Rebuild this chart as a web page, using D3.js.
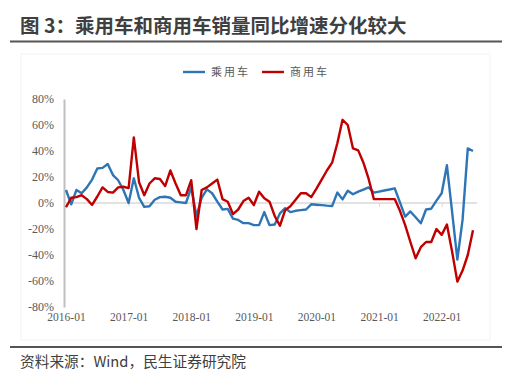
<!DOCTYPE html>
<html><head><meta charset="utf-8">
<script src="https://cdn.jsdelivr.net/npm/d3@7"></script>
<style>
html,body{margin:0;padding:0;background:#fff;}
svg{display:block;}
</style></head>
<body><svg id="c" width="517" height="386"></svg>
<script>
const titleText = "图 3：乘用车和商用车销量同比增速分化较大";
const sourceText = "资料来源：Wind，民生证券研究院";
const seriesNames = ["乘用车", "商用车"];
const startMonth = "2016-01";
const xTickLabels = ["2016-01","2017-01","2018-01","2019-01","2020-01","2021-01","2022-01"];
const yTicks = [80,60,40,20,0,-20,-40,-60,-80];
// 乘用车 monthly YoY (%), 2016-01 .. 2022-07
const passenger = [
  10,-1,10,7.5,12,18,26.5,27,30,21.5,17.5,10,
  0,19,4,-3,-2.5,2.5,4.5,4.8,4,1,0.5,0,
  12,-10,4,10.5,7.5,1,-5,-4.5,-12,-13,-15.5,-15.5,
  -17,-17,-7,-17,-16.5,-8,-4,-7,-6,-5.5,-5,-1,
  -1.3,-1.6,-2,-2.3,8,2.8,9.5,6.7,8.7,10.3,12,8,
  8.8,9.6,10.4,11.3,0.5,-10.5,-6.5,-11,-15.6,-5,-4.4,1.8,
  7.5,29,-7,-43.5,-13,42,40
];
// 商用车 monthly YoY (%), 2016-01 .. 2022-07
const commercial = [
  -3.3,4,4.5,6,3,-1.5,5,12,8.5,8,12,12.5,
  11.5,50.5,16,6,15,19,18.5,13,25,15,6,6,
  17.5,-20,10,12,15,18,3,1,-8.5,-5,1.5,4,
  -1.5,8.7,3.6,1,-10,-17.5,-5.5,-2.5,2.5,7.5,7.5,4.5,
  11,18,25,31,46,64,60,42,40.5,31,18.5,3,
  3,3,3,3,-6,-17,-30,-42.5,-34,-30,-30,-20,
  -24.5,-16.5,-37.5,-60.5,-52,-40,-21
];
const colors = ["#2e75b6", "#c00000"];

const svg = d3.select("#c");
const font = "'Noto Sans CJK SC','Noto Sans',sans-serif";
const serif = "'Liberation Serif','DejaVu Serif',serif";

// title
svg.append("text").attr("x", 20).attr("y", 33)
  .attr("font-family", font).attr("font-weight", "bold").attr("font-size", 19.5)
  .attr("fill", "#3f3f3f").text(titleText);
svg.append("line").attr("x1", 10).attr("x2", 502).attr("y1", 41.5).attr("y2", 41.5)
  .attr("stroke", "#555").attr("stroke-width", 2);

// faint chart frame
svg.append("rect").attr("x", 21).attr("y", 54).attr("width", 469).attr("height", 286)
  .attr("fill", "none").attr("stroke", "#f3f3f3").attr("stroke-width", 1);

const parse = d3.timeParse("%Y-%m");
const t0 = parse(startMonth);
const n = passenger.length;
const x = d3.scaleLinear().domain([0, n - 1]).range([66, 473]);
const y = d3.scaleLinear().domain([-80, 80]).range([307, 99]);
const monthIndex = s => { const d = parse(s); return (d.getFullYear() - t0.getFullYear()) * 12 + d.getMonth() - t0.getMonth(); };

// y axis labels
const yAxis = d3.axisLeft(y).tickValues(yTicks).tickSize(0).tickPadding(10)
  .tickFormat(d => d + "%");
const gy = svg.append("g").attr("transform", "translate(64,0)").call(yAxis);
gy.select(".domain").attr("stroke", "#bfbfbf").attr("stroke-width", 2);
gy.selectAll("text").attr("font-family", serif).attr("font-size", 12).attr("fill", "#595959");

// zero line
svg.append("line").attr("x1", 65).attr("x2", 477).attr("y1", y(0)).attr("y2", y(0))
  .attr("stroke", "#d9d9d9").attr("stroke-width", 1.5);

// x axis ticks on zero line, labels at bottom
const xt = xTickLabels.map(monthIndex);
const xAxis = d3.axisBottom(x).tickValues(xt).tickSize(4).tickFormat((d, i) => xTickLabels[i]);
const gx = svg.append("g").attr("transform", `translate(0,${y(0)})`).call(xAxis);
gx.select(".domain").remove();
gx.selectAll("line").attr("stroke", "#d9d9d9");
gx.selectAll("text").attr("font-family", serif).attr("font-size", 11.5).attr("fill", "#595959")
  .attr("y", 325 - y(0) - 4).attr("dy", 0);

// lines
const line = d3.line().x((d, i) => x(i)).y(d => y(d));
[passenger, commercial].forEach((s, k) => {
  svg.append("path").datum(s).attr("d", line).attr("fill", "none")
    .attr("stroke", colors[k]).attr("stroke-width", 2.4).attr("stroke-linejoin", "round");
});

// legend
const lg = svg.append("g");
[[183, 211], [262, 290]].forEach((p, k) => {
  lg.append("line").attr("x1", p[0]).attr("x2", p[0] + 22).attr("y1", 72).attr("y2", 72)
    .attr("stroke", colors[k]).attr("stroke-width", 2.4);
  lg.append("text").attr("x", p[1]).attr("y", 76).attr("font-family", font).attr("font-size", 11)
    .attr("letter-spacing", 2).attr("fill", "#595959").text(seriesNames[k]);
});

// bottom rule and source
svg.append("line").attr("x1", 10).attr("x2", 502).attr("y1", 347).attr("y2", 347)
  .attr("stroke", "#555").attr("stroke-width", 2);
svg.append("text").attr("x", 20).attr("y", 367).attr("font-family", font).attr("font-size", 14.7)
  .attr("fill", "#404040").text(sourceText);
</script></body></html>
